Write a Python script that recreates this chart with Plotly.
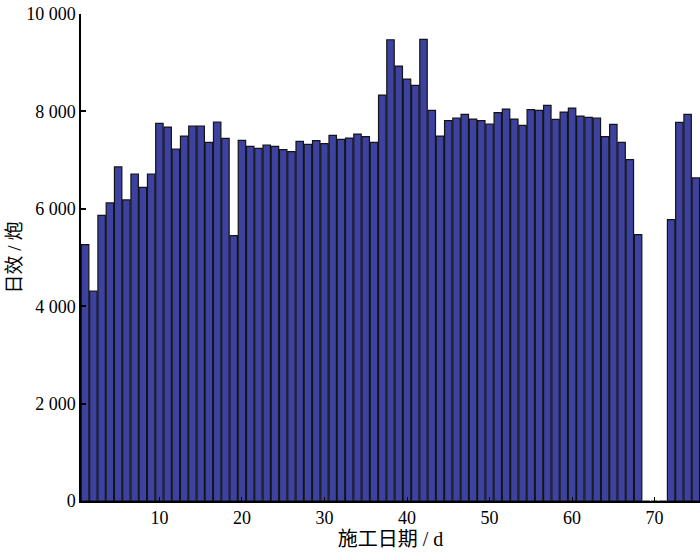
import plotly.graph_objects as go

# 施工日期 (d) and 日效 (炮)
days = list(range(1, 76))
daily = [
    5265, 4308, 5867, 6120, 6859, 6182, 6715, 6441, 6715, 7754,
    7679, 7228, 7494, 7700, 7700, 7365, 7782, 7447, 5450, 7406,
    7282, 7241, 7310, 7282, 7214, 7173, 7385, 7323, 7399, 7337,
    7508, 7426, 7453, 7535, 7481, 7365, 8336, 9471, 8930, 8664,
    8534, 9477, 8021, 7494, 7809, 7864, 7939, 7843, 7809, 7741,
    7973, 8048, 7843, 7713, 8035, 8021, 8124, 7836, 7987, 8069,
    7905, 7877, 7864, 7481, 7734, 7365, 7009, 5470, 0, 0,
    0, 5778, 7775, 7939, 6633,
]
x_ticks = [10, 20, 30, 40, 50, 60, 70]
y_ticks = [0, 2000, 4000, 6000, 8000, 10000]
y_ticktext = ["0", "2 000", "4 000", "6 000", "8 000", "10 000"]

font = "Liberation Serif, Times New Roman, Noto Sans CJK SC, serif"

fig = go.Figure(go.Bar(
    x=days,
    y=daily,
    marker=dict(color="#3d41a0", line=dict(color="#141414", width=1.2)),
))

fig.update_layout(
    width=700, height=553,
    margin=dict(l=81, r=0, t=14, b=52),
    plot_bgcolor="white", paper_bgcolor="white",
    bargap=0.1,
    showlegend=False,
    font=dict(family=font, size=18, color="black"),
)
fig.update_xaxes(
    range=[0.5, 75.5], automargin=False,
    tickvals=x_ticks,
    ticks="inside", ticklen=4, tickwidth=1, tickcolor="black",
    showline=True, linecolor="black", linewidth=1.5,
    showgrid=False, zeroline=False,
    title=dict(text="施工日期 / d", font=dict(size=20), standoff=0),
)
fig.update_yaxes(
    range=[0, 10000], automargin=False,
    tickvals=y_ticks, ticktext=y_ticktext, ticklabeloverflow="allow",
    ticks="inside", ticklen=5, tickwidth=1.5, tickcolor="black",
    showline=True, linecolor="black", linewidth=1.5,
    showgrid=False, zeroline=False,
    title=dict(text="日效 / 炮", font=dict(size=19), standoff=0),
)

# drop the default 8 px body margin so the figure fills the window
fig.write_html(
    "out.html",
    config={"displayModeBar": False},
    post_script="document.body.style.margin='0';",
)
